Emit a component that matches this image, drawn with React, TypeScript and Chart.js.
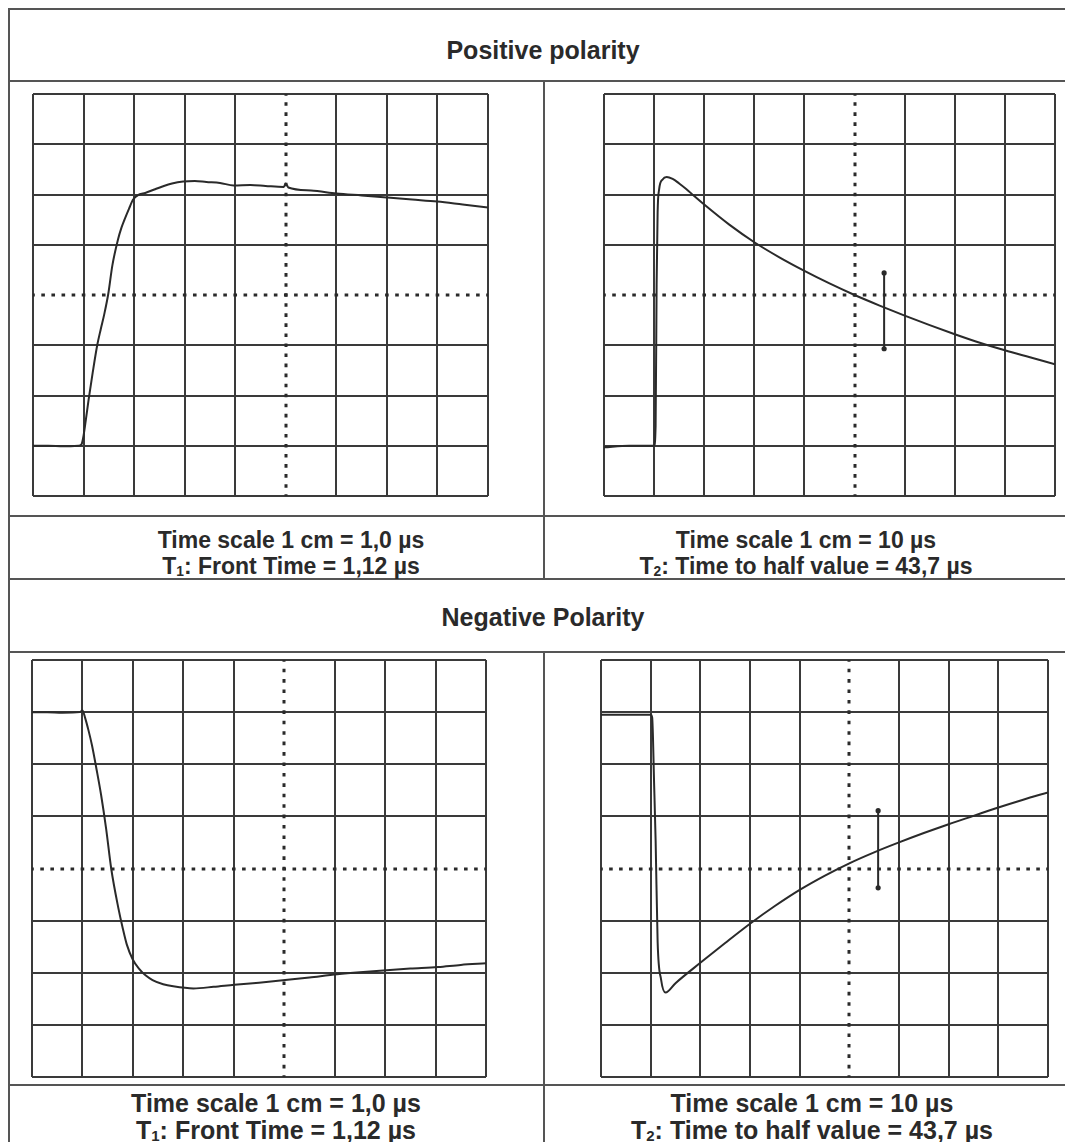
import React, { useEffect, useRef } from 'react';
import { Chart, registerables } from 'chart.js';

Chart.register(...registerables);

// ---- screen divisions (1 div = 1 cm) ----
const xRange = [0, 9];
const yRange = [-4, 4];
const centerX = 5;
const centerY = 0;

// ---- Positive polarity, front (1 µs / div) ----
const posFrontT = [0, 0.3, 0.6, 0.9, 0.96, 1.0, 1.05, 1.1, 1.18, 1.27, 1.34, 1.41, 1.49, 1.57, 1.68, 1.75, 1.81, 1.9, 1.98, 2.1, 2.22, 2.4, 2.56, 2.75, 2.97, 3.2, 3.43, 3.7, 3.97, 4.3, 4.6, 4.96, 5.0, 5.05, 5.5, 6.0, 6.5, 7.0, 7.5, 8.0, 8.5, 9.0];
const posFrontV = [-3.0, -3.0, -3.01, -3.0, -2.97, -2.8, -2.45, -2.08, -1.55, -1.0, -0.68, -0.38, 0.03, 0.59, 1.1, 1.34, 1.5, 1.72, 1.9, 2.0, 2.03, 2.1, 2.16, 2.22, 2.26, 2.27, 2.25, 2.23, 2.18, 2.19, 2.17, 2.15, 2.22, 2.14, 2.08, 2.02, 1.98, 1.94, 1.9, 1.86, 1.8, 1.74];

// ---- Positive polarity, tail (10 µs / div) ----
const posTailT = [0, 0.5, 1.0, 1.03, 1.05, 1.07, 1.1, 1.17, 1.25, 1.37, 1.5, 1.64, 1.8, 2.0, 2.5, 3.0, 3.5, 4.0, 4.5, 5.0, 5.5, 6.0, 6.5, 7.0, 7.5, 8.0, 8.5, 9.0];
const posTailV = [-3.03, -3.0, -3.0, -2.6, 0.2, 1.64, 2.1, 2.3, 2.35, 2.31, 2.22, 2.11, 1.97, 1.8, 1.4, 1.05, 0.75, 0.48, 0.23, 0.0, -0.21, -0.41, -0.6, -0.78, -0.95, -1.1, -1.24, -1.38];
const posTailMarkerT = [5.59, 5.59];
const posTailMarkerV = [0.44, -1.07];

// ---- Negative polarity, front (1 µs / div) ----
const negFrontT = [0, 0.3, 0.6, 0.95, 1.0, 1.05, 1.12, 1.19, 1.28, 1.37, 1.47, 1.57, 1.71, 1.8, 1.88, 2.0, 2.12, 2.25, 2.39, 2.6, 2.8, 3.2, 3.6, 4.01, 4.5, 5.02, 5.5, 6.05, 6.5, 7.03, 7.5, 8.05, 8.5, 9.0];
const negFrontV = [3.0, 3.0, 2.99, 3.0, 3.03, 2.9, 2.65, 2.36, 1.9, 1.41, 0.76, 0.0, -0.75, -1.15, -1.46, -1.75, -1.92, -2.05, -2.14, -2.22, -2.26, -2.3, -2.27, -2.23, -2.19, -2.14, -2.09, -2.03, -1.99, -1.95, -1.92, -1.89, -1.85, -1.82];

// ---- Negative polarity, tail (10 µs / div) ----
const negTailT = [0, 0.5, 1.0, 1.03, 1.07, 1.1, 1.14, 1.21, 1.3, 1.5, 2.0, 2.5, 3.0, 3.5, 4.0, 4.5, 5.0, 5.5, 6.0, 6.5, 7.0, 7.5, 8.0, 8.5, 9.0];
const negTailV = [2.95, 2.95, 2.95, 2.9, 1.6, 0.53, -1.4, -2.13, -2.38, -2.2, -1.81, -1.43, -1.06, -0.72, -0.41, -0.14, 0.1, 0.31, 0.5, 0.68, 0.85, 1.01, 1.17, 1.32, 1.46];
const negTailMarkerT = [5.58, 5.58];
const negTailMarkerV = [1.11, -0.37];

// ---- texts ----
const titlePositive = 'Positive polarity';
const titleNegative = 'Negative Polarity';
const timeScaleFront = 'Time scale 1 cm = 1,0 µs';
const timeScaleTail = 'Time scale 1 cm = 10 µs';
const frontTimeLabel = ['T', '1', ': Front Time = 1,12 µs'];
const halfValueLabel = ['T', '2', ': Time to half value = 43,7 µs'];

const INK = '#2a2a2a';
const GRID = '#3a3a3a';
const RULE = '#555555';
const FONT = '"Liberation Sans", Arial, Helvetica, sans-serif';

const centerAxesPlugin = {
  id: 'centerAxes',
  beforeDatasetsDraw(chart: any) {
    const { ctx, chartArea, scales } = chart;
    const xs = scales.x;
    const ys = scales.y;
    const cx = xs.getPixelForValue(centerX);
    const cy = ys.getPixelForValue(centerY);
    const dx = (xs.getPixelForValue(1) - xs.getPixelForValue(0)) / 5;
    const dy = (ys.getPixelForValue(0) - ys.getPixelForValue(1)) / 5;
    ctx.save();
    ctx.strokeStyle = INK;
    ctx.lineWidth = 3;
    ctx.setLineDash([3.6, dx - 3.6]);
    ctx.lineDashOffset = 1.8;
    ctx.beginPath();
    ctx.moveTo(chartArea.left, Math.round(cy));
    ctx.lineTo(chartArea.right, Math.round(cy));
    ctx.stroke();
    ctx.setLineDash([3.6, dy - 3.6]);
    ctx.beginPath();
    ctx.moveTo(Math.round(cx), chartArea.top);
    ctx.lineTo(Math.round(cx), chartArea.bottom);
    ctx.stroke();
    ctx.restore();
  },
};

type ScopeProps = {
  left: number;
  top: number;
  width: number;
  height: number;
  t: number[];
  v: number[];
  markerT?: number[];
  markerV?: number[];
};

function Scope({ left, top, width, height, t, v, markerT, markerV }: ScopeProps) {
  const ref = useRef<HTMLCanvasElement>(null);
  const pad = 4;
  useEffect(() => {
    const datasets: any[] = [
      {
        data: t.map((x, i) => ({ x, y: v[i] })),
        borderColor: INK,
        borderWidth: 2,
        pointRadius: 0,
        cubicInterpolationMode: 'monotone',
        fill: false,
      },
    ];
    if (markerT && markerV) {
      datasets.push({
        data: markerT.map((x, i) => ({ x, y: markerV[i] })),
        borderColor: INK,
        borderWidth: 2,
        pointRadius: 2.6,
        pointBackgroundColor: INK,
        pointBorderWidth: 0,
        tension: 0,
        fill: false,
      });
    }
    const gridColor = (axisCenter: number) => (c: any) =>
      c.tick && c.tick.value === axisCenter ? 'rgba(0,0,0,0)' : GRID;
    const chart = new Chart(ref.current as HTMLCanvasElement, {
      type: 'line',
      data: { datasets },
      options: {
        animation: false,
        responsive: false,
        events: [],
        layout: { padding: pad, autoPadding: false },
        plugins: { legend: { display: false }, tooltip: { enabled: false }, title: { display: false } },
        scales: {
          x: {
            type: 'linear',
            min: xRange[0],
            max: xRange[1],
            ticks: { display: false, stepSize: 1 },
            grid: { color: gridColor(centerX), lineWidth: 2, drawTicks: false },
            border: { display: false },
          },
          y: {
            type: 'linear',
            min: yRange[0],
            max: yRange[1],
            ticks: { display: false, stepSize: 1 },
            grid: { color: gridColor(centerY), lineWidth: 2, drawTicks: false },
            border: { display: false },
          },
        },
      } as any,
      plugins: [centerAxesPlugin],
    });
    return () => chart.destroy();
  }, []);
  return (
    <canvas
      ref={ref}
      width={width + pad * 2}
      height={height + pad * 2}
      style={{ position: 'absolute', left: left - pad, top: top - pad }}
    />
  );
}

function Rule({ x, y, w, h }: { x: number; y: number; w: number; h: number }) {
  return <div style={{ position: 'absolute', left: x, top: y, width: w, height: h, background: RULE }} />;
}

function Label({ cx, cy, size, children }: { cx: number; cy: number; size: number; children: React.ReactNode }) {
  const lh = Math.round(size * 1.2);
  return (
    <div
      style={{
        position: 'absolute',
        left: cx - 300,
        width: 600,
        top: cy - lh / 2,
        height: lh,
        lineHeight: lh + 'px',
        textAlign: 'center',
        fontFamily: FONT,
        fontWeight: 700,
        fontSize: size,
        color: INK,
        whiteSpace: 'nowrap',
      }}
    >
      {children}
    </div>
  );
}

function TLabel({ parts }: { parts: string[] }) {
  return (
    <>
      {parts[0]}
      <span style={{ fontSize: '0.6em', verticalAlign: '-0.15em' }}>{parts[1]}</span>
      {parts[2]}
    </>
  );
}

export default function App() {
  // page coordinates are offset by the 8px body margin
  const o = 8;
  return (
    <div style={{ position: 'relative', width: 1065, height: 1134, overflow: 'hidden', background: '#fff' }}>
      <style>{'html,body{overflow:hidden;background:#fff}'}</style>
      {/* table rules */}
      <Rule x={0} y={0} w={1065} h={2} />
      <Rule x={0} y={0} w={2} h={1134} />
      <Rule x={0} y={80 - o} w={1065} h={2} />
      <Rule x={0} y={515 - o} w={1065} h={2} />
      <Rule x={0} y={578 - o} w={1065} h={2} />
      <Rule x={0} y={651 - o} w={1065} h={2} />
      <Rule x={0} y={1084 - o} w={1065} h={2} />
      <Rule x={543 - o} y={80 - o} w={2} h={578 - 80} />
      <Rule x={543 - o} y={651 - o} w={2} h={1134 - (651 - o)} />

      <Label cx={543 - o} cy={50 - o} size={25}>{titlePositive}</Label>
      <Label cx={543 - o} cy={617 - o} size={25}>{titleNegative}</Label>

      <Scope left={33 - o} top={94 - o} width={455} height={402} t={posFrontT} v={posFrontV} />
      <Scope left={604 - o} top={94 - o} width={451} height={402} t={posTailT} v={posTailV} markerT={posTailMarkerT} markerV={posTailMarkerV} />
      <Scope left={32 - o} top={660 - o} width={454} height={417} t={negFrontT} v={negFrontV} />
      <Scope left={601 - o} top={660 - o} width={447} height={417} t={negTailT} v={negTailV} markerT={negTailMarkerT} markerV={negTailMarkerV} />

      <Label cx={291 - o} cy={540 - o} size={23}>{timeScaleFront}</Label>
      <Label cx={291 - o} cy={566 - o} size={23}><TLabel parts={frontTimeLabel} /></Label>
      <Label cx={806 - o} cy={540 - o} size={23}>{timeScaleTail}</Label>
      <Label cx={806 - o} cy={566 - o} size={23}><TLabel parts={halfValueLabel} /></Label>

      <Label cx={276 - o} cy={1103 - o} size={25}>{timeScaleFront}</Label>
      <Label cx={276 - o} cy={1130 - o} size={25}><TLabel parts={frontTimeLabel} /></Label>
      <Label cx={812 - o} cy={1103 - o} size={25}>{timeScaleTail}</Label>
      <Label cx={812 - o} cy={1130 - o} size={25}><TLabel parts={halfValueLabel} /></Label>
    </div>
  );
}
